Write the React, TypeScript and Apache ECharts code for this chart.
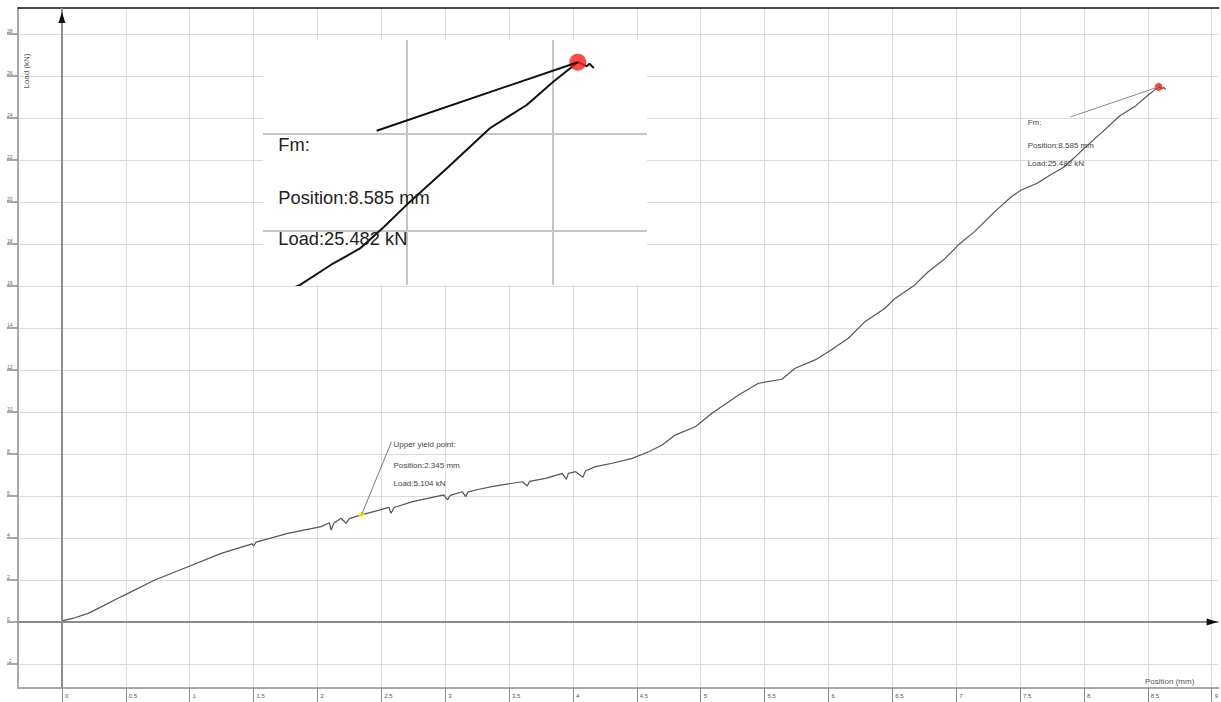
import React, { useEffect, useRef } from "react";
import * as echarts from "echarts";

// Tensile test record: crosshead position (mm) against load (kN)
const positionMm = [
  0, 0.1, 0.206, 0.284, 0.466, 0.727, 0.987, 1.247, 1.49, 1.5, 1.52, 1.768,
  2.029, 2.094, 2.107, 2.13, 2.185, 2.224, 2.25, 2.345, 2.484, 2.56, 2.576,
  2.6, 2.745, 2.99, 3.018, 3.04, 3.135, 3.16, 3.18, 3.266, 3.396, 3.604,
  3.643, 3.66, 3.786, 3.917, 3.948, 3.965, 4.021, 4.078, 4.1, 4.177, 4.307,
  4.464, 4.594, 4.698, 4.8, 4.958, 5.088, 5.297, 5.453, 5.635, 5.74, 5.896,
  6.0, 6.156, 6.286, 6.443, 6.521, 6.677, 6.781, 6.912, 7.016, 7.146, 7.302,
  7.432, 7.51, 7.634, 7.739, 7.839, 7.92, 7.999, 8.136, 8.284, 8.41, 8.501,
  8.585, 8.615, 8.625, 8.64,
];
const loadKn = [
  0.05, 0.2, 0.41, 0.65, 1.21, 2.0, 2.63, 3.27, 3.72, 3.62, 3.8, 4.22, 4.54,
  4.73, 4.38, 4.72, 4.94, 4.7, 4.92, 5.104, 5.33, 5.46, 5.18, 5.45, 5.73,
  6.05, 5.81, 6.03, 6.2, 5.97, 6.2, 6.32, 6.48, 6.68, 6.48, 6.7, 6.84, 7.08,
  6.8, 7.08, 7.16, 6.89, 7.2, 7.4, 7.56, 7.79, 8.11, 8.43, 8.9, 9.3, 9.94,
  10.81, 11.37, 11.56, 12.08, 12.48, 12.87, 13.51, 14.3, 14.94, 15.41, 16.05,
  16.68, 17.3, 17.95, 18.6, 19.54, 20.25, 20.57, 20.89, 21.3, 21.64, 22.08,
  22.54, 23.29, 24.12, 24.6, 25.08, 25.482, 25.4, 25.45, 25.36,
];

// Marked results
const upperYield = { position: 2.345, load: 5.104 };
const maxForce = { position: 8.585, load: 25.482 };

// Tick values
const xTickValues = [
  0, 0.5, 1, 1.5, 2, 2.5, 3, 3.5, 4, 4.5, 5, 5.5, 6, 6.5, 7, 7.5, 8, 8.5, 9,
];
const yTickValues = [-2, 0, 2, 4, 6, 8, 10, 12, 14, 16, 18, 20, 22, 24, 26, 28];

// Axis extents of the full plot and of the magnified detail view
const mainRange = { xMin: -0.34375, xMax: 9.0547, yMin: -3.1429, yMax: 29.238 };
const detailRange = { xMin: 7.507, xMax: 8.822, yMin: 20.887, yMax: 25.94 };

const FONT = '"Liberation Sans", Arial, Helvetica, sans-serif';
const GRID_LINE = "#dcdcdc";
const FRAME = "#a8a8a8";

export default function App() {
  const ref = useRef<HTMLDivElement | null>(null);

  useEffect(() => {
    if (!ref.current) return;
    const chart = echarts.init(ref.current, null, { renderer: "svg" });
    const curve = positionMm.map((x, i) => [x, loadKn[i]]);
    const peak = [maxForce.position, maxForce.load];
    const yieldPt = [upperYield.position, upperYield.load];

    chart.setOption({
      animation: false,
      backgroundColor: "#ffffff",
      grid: [
        { left: 18, right: 0, top: 8, bottom: 14, show: false },
        {
          left: 263,
          top: 40,
          width: 384,
          height: 245,
          show: true,
          backgroundColor: "#ffffff",
          borderWidth: 0,
          z: 3,
        },
      ],
      xAxis: [
        {
          type: "value",
          gridIndex: 0,
          position: "bottom",
          min: mainRange.xMin,
          max: mainRange.xMax,
          axisLine: { show: true, onZero: false, lineStyle: { color: FRAME, width: 2 } },
          axisTick: {
            show: true,
            inside: false,
            length: 14,
            customValues: xTickValues,
            lineStyle: { color: "#8a8a8a", width: 1 },
          },
          axisLabel: {
            show: true,
            customValues: xTickValues,
            formatter: (v: number) => String(v),
            fontSize: 6,
            fontFamily: FONT,
            color: "#555",
            align: "left",
            verticalAlign: "top",
            margin: 5,
            padding: [0, 0, 0, 3],
          },
          splitLine: { show: true, lineStyle: { color: GRID_LINE, width: 1 } },
        },
        {
          type: "value",
          gridIndex: 0,
          position: "top",
          min: mainRange.xMin,
          max: mainRange.xMax,
          axisLine: { show: true, onZero: false, lineStyle: { color: "#111", width: 1.5 } },
          axisTick: { show: false },
          axisLabel: { show: false },
          splitLine: { show: false },
        },
        {
          type: "value",
          gridIndex: 1,
          min: detailRange.xMin,
          max: detailRange.xMax,
          z: 4,
          axisLine: { show: false },
          axisTick: { show: false, customValues: xTickValues },
          axisLabel: { show: false },
          splitLine: { show: true, lineStyle: { color: "#c6c6c6", width: 2 } },
        },
      ],
      yAxis: [
        {
          type: "value",
          gridIndex: 0,
          position: "left",
          min: mainRange.yMin,
          max: mainRange.yMax,
          axisLine: { show: true, onZero: false, lineStyle: { color: FRAME, width: 2 } },
          axisTick: {
            show: true,
            inside: false,
            length: 11,
            customValues: yTickValues,
            lineStyle: { color: "#8a8a8a", width: 1.5 },
          },
          axisLabel: {
            show: true,
            customValues: yTickValues,
            formatter: (v: number) => String(v),
            fontSize: 5,
            fontFamily: FONT,
            color: "#666",
            align: "left",
            verticalAlign: "bottom",
            margin: 11,
          },
          splitLine: { show: true, lineStyle: { color: GRID_LINE, width: 1 } },
        },
        {
          type: "value",
          gridIndex: 1,
          min: detailRange.yMin,
          max: detailRange.yMax,
          z: 4,
          axisLine: { show: false },
          axisTick: { show: false, customValues: yTickValues },
          axisLabel: { show: false },
          splitLine: { show: true, lineStyle: { color: "#c6c6c6", width: 2 } },
        },
      ],
      series: [
        {
          name: "Load",
          type: "line",
          xAxisIndex: 0,
          yAxisIndex: 0,
          data: curve,
          showSymbol: false,
          symbol: "none",
          lineStyle: { color: "#555555", width: 1.2 },
          z: 2,
          markLine: {
            silent: true,
            symbol: "none",
            label: { show: false },
            lineStyle: { color: "#8c8c8c", width: 2, type: "solid" },
            data: [{ xAxis: 0 }, { yAxis: 0 }],
          },
        },
        {
          name: "Marks",
          type: "scatter",
          xAxisIndex: 0,
          yAxisIndex: 0,
          z: 3,
          data: [
            { value: yieldPt, symbolSize: 6, itemStyle: { color: "#ffff00" } },
            { value: peak, symbolSize: 8, itemStyle: { color: "#ff1a1a" } },
          ],
        },
        {
          name: "Load detail",
          type: "line",
          xAxisIndex: 2,
          yAxisIndex: 1,
          data: curve,
          showSymbol: false,
          symbol: "none",
          clip: true,
          lineStyle: { color: "#111", width: 2 },
          z: 5,
        },
        {
          name: "Fm detail",
          type: "scatter",
          xAxisIndex: 2,
          yAxisIndex: 1,
          z: 6,
          data: [{ value: peak, symbolSize: 17, itemStyle: { color: "#ff1a1a" } }],
        },
      ],
    });

    const px = (g: number, v: number[]) =>
      chart.convertToPixel({ gridIndex: g }, v) as unknown as number[];

    const origin = px(0, [0, 0]);
    const yTop = px(0, [0, mainRange.yMax]);
    const xRight = px(0, [mainRange.xMax, 0]);
    const pk = px(0, peak);
    const yl = px(0, yieldPt);
    const pkDetail = px(1, peak);
    const scale =
      (px(1, [8.5, 22])[0] - px(1, [8, 22])[0]) / (px(0, [8.5, 0])[0] - px(0, [8, 0])[0]);

    const textEl = (
      x: number,
      y: number,
      text: string,
      size: number,
      color: string,
      z = 10
    ) => ({
      type: "text",
      x,
      y,
      z,
      silent: true,
      style: {
        text,
        fill: color,
        fontSize: size,
        fontFamily: FONT,
        align: "left",
        verticalAlign: "middle",
      },
    });

    const lineEl = (x1: number, y1: number, x2: number, y2: number, color: string, w: number) => ({
      type: "line",
      z: 10,
      silent: true,
      shape: { x1, y1, x2, y2 },
      style: { stroke: color, lineWidth: w },
    });

    const fmLines = [
      "Fm:",
      `Position:${maxForce.position.toFixed(3)} mm`,
      `Load:${maxForce.load.toFixed(3)} kN`,
    ];
    const fmOffsets = [36, 59, 77];
    const yieldLines = [
      "Upper yield point:",
      `Position:${upperYield.position.toFixed(3)} mm`,
      `Load:${upperYield.load.toFixed(3)} kN`,
    ];
    const yieldOffsets = [-70, -49, -31];

    const elements: any[] = [
      // axis arrowheads
      {
        type: "polygon",
        z: 10,
        silent: true,
        shape: {
          points: [
            [origin[0], yTop[1] + 4],
            [origin[0] - 3.5, yTop[1] + 15],
            [origin[0] + 3.5, yTop[1] + 15],
          ],
        },
        style: { fill: "#111" },
      },
      {
        type: "polygon",
        z: 10,
        silent: true,
        shape: {
          points: [
            [xRight[0] - 1, origin[1]],
            [xRight[0] - 12, origin[1] - 3.5],
            [xRight[0] - 12, origin[1] + 3.5],
          ],
        },
        style: { fill: "#111" },
      },
      // axis titles
      {
        type: "text",
        x: 26,
        y: 71,
        z: 10,
        rotation: Math.PI / 2,
        silent: true,
        style: {
          text: "Load (kN)",
          fill: "#555",
          fontSize: 8,
          fontFamily: FONT,
          align: "center",
          verticalAlign: "middle",
        },
      },
      textEl(1145, 681, "Position (mm)", 8, "#555"),
      // Fm annotation on the full plot
      lineEl(pk[0], pk[1], pk[0] - 88, pk[1] + 30, "#8a8a8a", 1),
      ...fmLines.map((t, i) => textEl(pk[0] - 131, pk[1] + fmOffsets[i], t, 8, "#444")),
      // upper yield annotation
      lineEl(yl[0], yl[1], yl[0] + 30, yl[1] - 73, "#7a7a7a", 1),
      ...yieldLines.map((t, i) => textEl(yl[0] + 32, yl[1] + yieldOffsets[i], t, 8, "#444")),
      // Fm annotation in the detail view
      lineEl(pkDetail[0], pkDetail[1], pkDetail[0] - 88 * scale, pkDetail[1] + 30 * scale, "#111", 2),
      ...fmLines.map((t, i) =>
        textEl(pkDetail[0] - 131 * scale, pkDetail[1] + fmOffsets[i] * scale, t, 8 * scale, "#222")
      ),
    ];

    chart.setOption({ graphic: { elements } });

    return () => chart.dispose();
  }, []);

  return (
    <div
      ref={ref}
      style={{ position: "fixed", left: 0, top: 0, width: 1221, height: 702 }}
    />
  );
}
